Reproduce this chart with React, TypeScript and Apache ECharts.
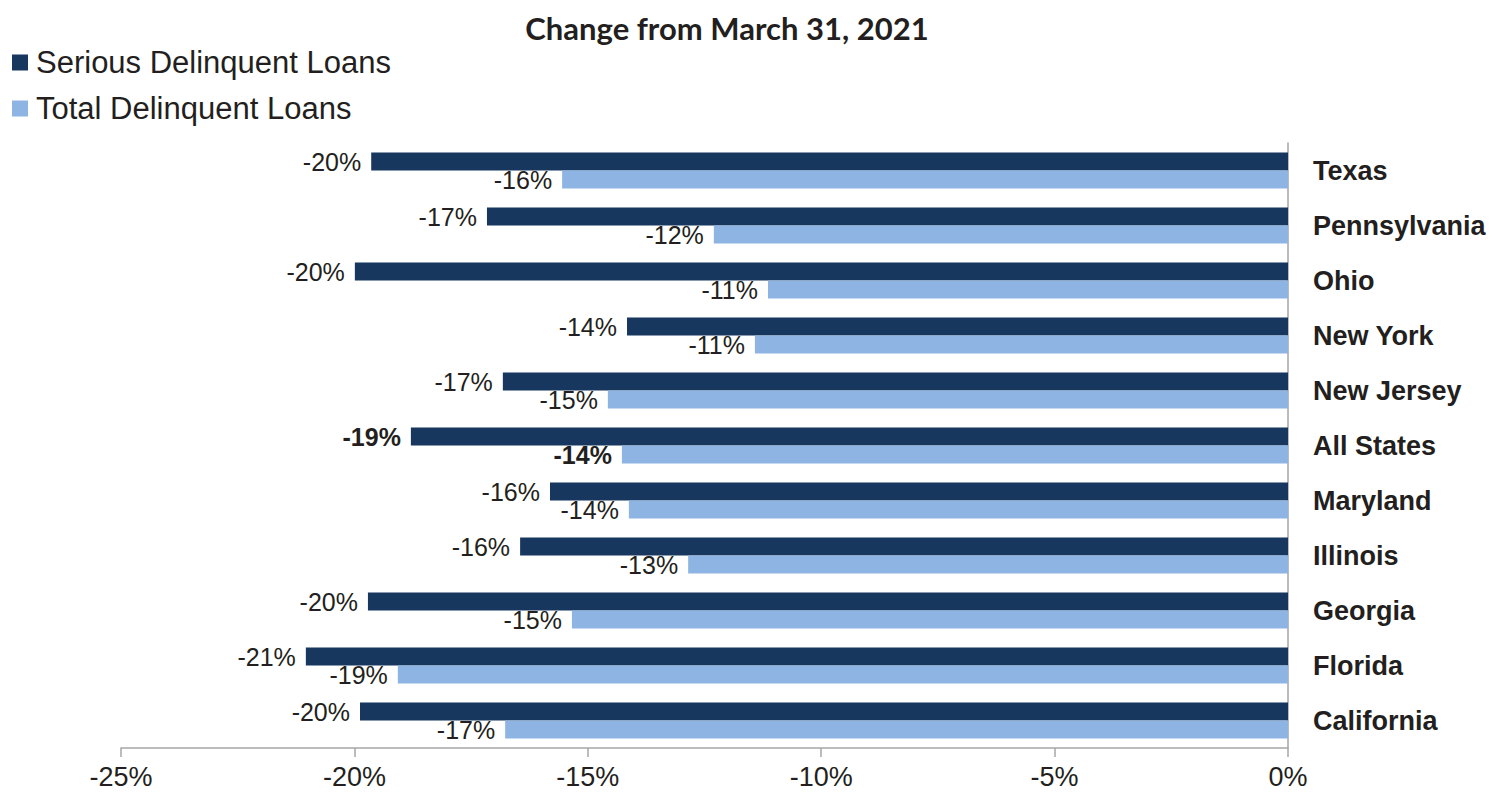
import React, { useEffect, useRef } from "react";
import * as echarts from "echarts";

const categories = ["Texas", "Pennsylvania", "Ohio", "New York", "New Jersey", "All States", "Maryland", "Illinois", "Georgia", "Florida", "California"];
const seriousValues = [-19.64, -17.16, -19.99, -14.16, -16.82, -18.79, -15.81, -16.45, -19.71, -21.04, -19.88];
const totalValues = [-15.55, -12.3, -11.14, -11.42, -14.57, -14.27, -14.12, -12.85, -15.34, -19.07, -16.77];
const xTicks = { min: -25, max: 0, interval: 5 };
const boldCategory = "All States";

const TEXT = "#231f20";
const FONT = "'Liberation Sans', Arial, sans-serif";

function makeData(values: number[]) {
  return values.map((v, i) => ({
    value: v,
    label: categories[i] === boldCategory ? { fontWeight: "bold" as const } : undefined,
  }));
}

export default function App() {
  const ref = useRef<HTMLDivElement>(null);
  useEffect(() => {
    if (!ref.current) return;
    const chart = echarts.init(ref.current, null, { renderer: "svg" });
    const labelCfg = {
      show: true,
      position: "left" as const,
      distance: 10,
      fontFamily: FONT,
      fontSize: 25,
      color: TEXT,
      formatter: (p: any) => Math.round(p.value) + "%",
    };
    chart.setOption({
      animation: false,
      title: {
        text: "Change from March 31, 2021",
        left: 722,
        textAlign: "center",
        top: 7,
        textStyle: { fontFamily: "Lato, 'Open Sans', sans-serif", fontWeight: "bold", fontSize: 31, color: TEXT },
      },
      legend: {
        orient: "vertical",
        left: 12,
        top: 47,
        padding: 0,
        itemWidth: 16,
        itemHeight: 16,
        itemGap: 15,
        icon: "rect",
        textStyle: { fontFamily: FONT, fontSize: 31, color: TEXT, padding: [0, 0, 0, 3] },
        data: ["Serious Delinquent Loans", "Total Delinquent Loans"],
      },
      grid: { left: 121, right: 204, top: 143, bottom: 46, containLabel: false },
      xAxis: {
        type: "value",
        min: xTicks.min,
        max: xTicks.max,
        interval: xTicks.interval,
        axisLine: { show: true, lineStyle: { color: "#a6a6a6", width: 1.5 } },
        axisTick: { show: true, length: 9, lineStyle: { color: "#a6a6a6", width: 1.5 } },
        splitLine: { show: false },
        axisLabel: {
          formatter: (v: number) => v + "%",
          fontFamily: FONT,
          fontSize: 27,
          color: TEXT,
          margin: 15,
        },
      },
      yAxis: {
        type: "category",
        data: categories,
        inverse: true,
        position: "right",
        axisLine: { show: true, onZero: false, lineStyle: { color: "#a6a6a6", width: 1.5 } },
        axisTick: { show: false },
        axisLabel: {
          fontFamily: FONT,
          fontSize: 27,
          fontWeight: "bold",
          color: TEXT,
          margin: 25,
          align: "left",
        },
      },
      series: [
        {
          name: "Serious Delinquent Loans",
          type: "bar",
          data: makeData(seriousValues),
          barWidth: 18,
          barGap: "0%",
          itemStyle: { color: "#17375e" },
          label: labelCfg,
        },
        {
          name: "Total Delinquent Loans",
          type: "bar",
          data: makeData(totalValues),
          barWidth: 18,
          barGap: "0%",
          itemStyle: { color: "#8db4e2" },
          label: labelCfg,
        },
      ],
    });
    return () => chart.dispose();
  }, []);
  return <div ref={ref} style={{ width: 1492, height: 794, position: "absolute", left: 0, top: 0, background: "#fff" }} />;
}
